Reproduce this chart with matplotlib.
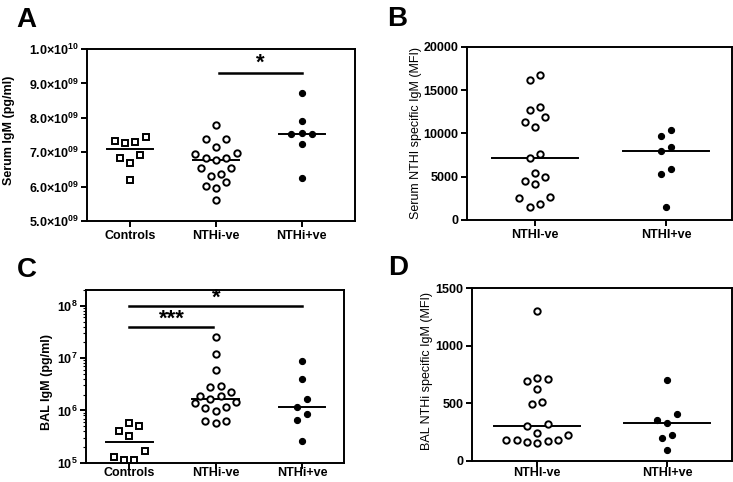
import numpy as np
import matplotlib
matplotlib.use('Agg')
import matplotlib.pyplot as plt

plt.rcParams['font.family'] = ['Liberation Sans', 'DejaVu Sans']
plt.rcParams['font.weight'] = 'bold'
plt.rcParams['mathtext.fontset'] = 'custom'
plt.rcParams['mathtext.rm'] = 'Liberation Sans:bold'
plt.rcParams['mathtext.bf'] = 'Liberation Sans:bold'
plt.rcParams['mathtext.it'] = 'Liberation Sans:bold:italic'

groups3 = ['Controls', 'NTHi-ve', 'NTHi+ve']
groups2 = ['NTHI-ve', 'NTHI+ve']

# A - serum total IgM, units of 1e9 pg/ml
serum_ctrl = [7.33, 7.27, 7.30, 7.45, 6.84, 6.69, 6.93, 6.18]
serum_neg = [7.79, 7.39, 7.39, 7.15, 6.94, 6.97, 6.82, 6.77, 6.82,
             6.54, 6.54, 6.30, 6.37, 6.14, 6.02, 5.96, 5.62]
serum_pos = [8.73, 7.90, 7.515, 7.56, 7.515, 7.25, 6.25]

# B - serum NTHi specific IgM (MFI)
serum_mfi_neg = [16730, 16160, 12690, 13080, 11850, 11310, 10700, 7120, 7580,
                 5390, 4930, 4500, 4150, 2570, 2690, 1850, 1530]
serum_mfi_pos = [10390, 9690, 8460, 8000, 5850, 5310, 1530]

# C - BAL total IgM (pg/ml)
bal_ctrl = [5.8e5, 4.1e5, 5.0e5, 3.3e5, 1.28e5, 1.13e5, 1.13e5, 1.7e5]
bal_neg = [2.5e7, 1.18e7, 5.9e6, 2.95e6, 2.85e6, 2.2e6, 1.9e6, 1.68e6, 1.85e6,
           1.37e6, 1.47e6, 1.14e6, 1.13e6, 9.6e5, 6.2e5, 5.7e5, 6.2e5]
bal_pos = [8.7e6, 4.07e6, 1.63e6, 1.18e6, 8.6e5, 6.5e5, 2.6e5]

# D - BAL NTHi specific IgM (MFI)
bal_mfi_neg = [1303, 698, 721, 709, 623, 495, 510, 304, 324, 246,
               229, 180, 171, 153, 165, 180, 185]
bal_mfi_pos = [704, 405, 356, 333, 223, 197, 93]

STEP = 10.3  # px between neighbouring points in a row


def swarm_x(ax, xc, values):
    # rows no taller than one step, lowest value of the row in the middle
    values = np.asarray(values, dtype=float)
    yd = ax.transData.transform(np.column_stack([np.full(len(values), xc), values]))[:, 1]
    ppu = ax.transData.transform((1, 1))[0] - ax.transData.transform((0, 1))[0]
    order = np.argsort(yd, kind='stable')
    off = np.zeros(len(values))
    i = 0
    while i < len(order):
        j = i
        while j + 1 < len(order) and yd[order[j + 1]] - yd[order[i]] < STEP:
            j += 1
        row = order[i:j + 1]
        n = len(row)
        if n % 2:
            slots = [0.0]
            k = 1.0
        else:
            slots = []
            k = 0.5
        while len(slots) < n:
            slots += [-k, k]
            k += 1
        for idx, s in zip(row, slots):
            off[idx] = s
        i = j + 1
    return xc + off * STEP / ppu


def draw_group(ax, xc, values, kind, half):
    xs = swarm_x(ax, xc, values)
    if kind == 'square':
        ax.plot(xs, values, 's', ms=4.0, mfc='white', mec='black', mew=1.4,
                ls='none', zorder=3)
    elif kind == 'open':
        ax.plot(xs, values, 'o', ms=4.6, mfc='white', mec='black', mew=1.4,
                ls='none', zorder=3)
    else:
        ax.plot(xs, values, 'o', ms=4.4, mfc='black', mec='black', mew=0.8,
                ls='none', zorder=3)
    med = np.median(values)
    ax.plot([xc - half, xc + half], [med, med], color='black', lw=1.4, zorder=2)


def style(ax):
    for s in ax.spines.values():
        s.set_linewidth(1.4)
    ax.tick_params(axis='both', which='major', length=4.5, width=1.4,
                   labelsize=9, pad=1.5)
    ax.tick_params(axis='x', pad=2.0)


fig = plt.figure(figsize=(7.33, 4.82), dpi=100)

# ---- A
axA = fig.add_axes([0.1191, 0.5415, 0.3652, 0.3568])
axA.set_xlim(-0.5, 2.62)
axA.set_ylim(5e9, 1e10)
yt = np.arange(5, 10.5, 1.0)
axA.set_yticks(yt * 1e9)
axA.set_yticklabels([r'$%.1f{\times}10^{%s}$' % (v if v < 10 else 1.0, '%02d' % (9 if v < 10 else 10))
                     for v in yt])
axA.set_xticks([0, 1, 2])
axA.set_xticklabels(groups3)
style(axA)
for xc, vals, kind in zip([0, 1, 2], [serum_ctrl, serum_neg, serum_pos],
                          ['square', 'open', 'filled']):
    draw_group(axA, xc, np.array(vals) * 1e9, kind, 0.27)
axA.plot([1.03, 2.0], [9.31e9, 9.31e9], color='black', lw=1.8)
axA.text(1.52, 9.58e9, '*', ha='center', va='center', fontsize=16, fontweight='bold')
axA.set_ylabel('Serum IgM (pg/ml)', fontsize=9, fontweight='bold')
axA.yaxis.set_label_coords(-0.27, 0.53)

# ---- B
axB = fig.add_axes([0.6367, 0.5436, 0.3615, 0.3595])
axB.set_xlim(-0.52, 1.5)
axB.set_ylim(0, 20000)
axB.set_yticks([0, 5000, 10000, 15000, 20000])
axB.set_xticks([0, 1])
axB.set_xticklabels(groups2)
style(axB)
draw_group(axB, 0, serum_mfi_neg, 'open', 0.33)
draw_group(axB, 1, serum_mfi_pos, 'filled', 0.33)
axB.set_ylabel('Serum NTHI specific IgM (MFI)', fontsize=9, fontweight='normal')
axB.yaxis.set_label_coords(-0.169, 0.5)

# ---- C
axC = fig.add_axes([0.1173, 0.0400, 0.3524, 0.3583])
axC.set_yscale('log')
axC.set_xlim(-0.5, 2.49)
axC.set_ylim(1e5, 2.0e8)
axC.set_yticks([1e5, 1e6, 1e7, 1e8])
axC.set_yticklabels([r'$10^{5}$', r'$10^{6}$', r'$10^{7}$', r'$10^{8}$'])
axC.set_xticks([0, 1, 2])
axC.set_xticklabels(groups3)
style(axC)
axC.tick_params(axis='x', pad=-1.5)
axC.tick_params(axis='y', which='minor', length=2, width=0.8)
axC.yaxis.set_minor_formatter(matplotlib.ticker.NullFormatter())
for xc, vals, kind in zip([0, 1, 2], [bal_ctrl, bal_neg, bal_pos],
                          ['square', 'open', 'filled']):
    draw_group(axC, xc, vals, kind, 0.27)
axC.plot([0, 0.97], [4.0e7, 4.0e7], color='black', lw=1.8)
axC.text(0.49, 5.6e7, '***', ha='center', va='center', fontsize=16, fontweight='bold')
axC.plot([0, 2.0], [1e8, 1e8], color='black', lw=1.8)
axC.text(1.01, 1.41e8, '*', ha='center', va='center', fontsize=16, fontweight='bold')
axC.set_ylabel('BAL IgM (pg/ml)', fontsize=9, fontweight='bold')
axC.yaxis.set_label_coords(-0.128, 0.47)

# ---- D
axD = fig.add_axes([0.6435, 0.0436, 0.3547, 0.3583])
axD.set_xlim(-0.506, 1.5)
axD.set_ylim(0, 1500)
axD.set_yticks([0, 500, 1000, 1500])
axD.set_xticks([0, 1])
axD.set_xticklabels(groups2)
style(axD)
axD.tick_params(axis='x', pad=-0.5)
draw_group(axD, 0, bal_mfi_neg, 'open', 0.33)
draw_group(axD, 1, bal_mfi_pos, 'filled', 0.33)
axD.set_ylabel('BAL NTHi specific IgM (MFI)', fontsize=9, fontweight='normal')
axD.yaxis.set_label_coords(-0.149, 0.52)

# panel letters
for letter, px, py in [('A', 16, 27), ('B', 387, 26), ('C', 17, 277), ('D', 388, 275)]:
    fig.text(px / 733, 1 - py / 482, letter, ha='left', va='baseline',
             fontsize=20, fontweight='bold')

fig.savefig('out.png', dpi=100)
